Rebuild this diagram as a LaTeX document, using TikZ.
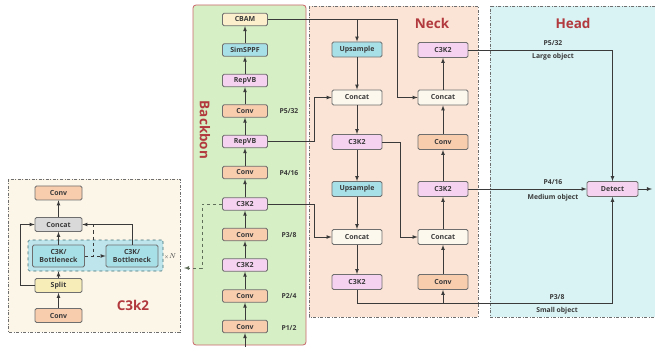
\documentclass[tikz,border=0pt]{standalone}
\usepackage{fontspec}
\setmainfont{Open Sans}
\usetikzlibrary{arrows,calc}
\definecolor{ConvClr}{HTML}{F8CDAE}
\definecolor{PinkClr}{HTML}{F6D2F1}
\definecolor{CyanClr}{HTML}{A8E0E8}
\definecolor{CbamClr}{HTML}{FBF0CB}
\definecolor{CatClr}{HTML}{FDF8EE}
\definecolor{GrayClr}{HTML}{D9D9D9}
\definecolor{SplitClr}{HTML}{F7EDB9}
\definecolor{BackClr}{HTML}{D6EFC5}
\definecolor{BackLineClr}{HTML}{C9656A}
\definecolor{NeckClr}{HTML}{FBE4D5}
\definecolor{HeadClr}{HTML}{D9F2F3}
\definecolor{KClr}{HTML}{FCF6E9}
\definecolor{BoxClr}{HTML}{BEE5EC}
\definecolor{BoxLineClr}{HTML}{3E6E74}
\definecolor{TitleClr}{HTML}{B23A3E}
\definecolor{LineClr}{HTML}{3A3A3A}
\definecolor{EdgeClr}{HTML}{6E6E6E}
\definecolor{DashClr}{HTML}{5E6E58}

\begin{document}
\begin{tikzpicture}[x=1pt,y=-1pt,>=latex,
  blk/.style={draw=EdgeClr,line width=.75pt,rounded corners=1.5pt,minimum width=45pt,minimum height=12.5pt,inner sep=0pt,font=\fontsize{7}{7.5}\selectfont\bfseries,text=LineClr},
  nblk/.style={blk,minimum width=50pt,minimum height=15pt},
  kblk/.style={blk,minimum width=47pt,minimum height=14pt},
  bblk/.style={blk,fill=CyanClr,minimum width=52pt,minimum height=22pt,align=center,font=\fontsize{7}{8}\selectfont\bfseries},
  lbl/.style={font=\fontsize{6.8}{7}\selectfont\bfseries,text=LineClr,inner sep=0pt},
  title/.style={font=\fontsize{13.5}{14}\selectfont\bfseries,text=TitleClr,inner sep=0pt},
  panel/.style={draw=EdgeClr,line width=.6pt,dash pattern=on 3pt off 1.5pt on 1pt off 1.5pt},
  con/.style={draw=LineClr,line width=.75pt,->}]
\useasboundingbox (0,0) rectangle (655,347);

\fill[KClr] (8,179) rectangle (180,332);
\draw[panel] (8,179) rectangle (180,332);
\draw[draw=BackLineClr,fill=BackClr,line width=.8pt,rounded corners=3pt] (193,5) rectangle (306,345);
\fill[NeckClr] (309,6) rectangle (478,317);
\draw[panel] (309,6) rectangle (478,317);
\fill[HeadClr] (490,6) rectangle (655,317);
\draw[panel] (655,6) -- (490,6) -- (490,317) -- (655,317);

\node[title] (ktitle) at (133,305) {C3k2};
\node[title,rotate=-90] (btitle) at (205,130) {Backbon};
\node[title] (ntitle) at (432,23) {Neck};
\node[title] (htitle) at (573,23) {Head};

\node[blk,fill=CbamClr] (cbam) at (245,19.5) {CBAM};
\node[blk,fill=CyanClr] (sppf) at (245,50) {SimSPPF};
\node[blk,fill=PinkClr] (rep2) at (245,80.5) {RepVB};
\node[blk,fill=ConvClr] (conv5) at (245,111) {Conv};
\node[blk,fill=PinkClr] (rep1) at (245,141.5) {RepVB};
\node[blk,fill=ConvClr] (conv4) at (245,172.5) {Conv};
\node[blk,fill=PinkClr] (c3b2) at (245,204) {C3K2};
\node[blk,fill=ConvClr] (conv3) at (245,234.5) {Conv};
\node[blk,fill=PinkClr] (c3b1) at (245,265) {C3K2};
\node[blk,fill=ConvClr] (conv2) at (245,296) {Conv};
\node[blk,fill=ConvClr] (conv1) at (245,326.5) {Conv};

\node[lbl] (p5) at (289,111) {P5/32};
\node[lbl] (p4) at (289,173) {P4/16};
\node[lbl] (p3) at (289,235) {P3/8};
\node[lbl] (p2) at (289,296.5) {P2/4};
\node[lbl] (p1) at (289,328) {P1/2};

\node[nblk,fill=CyanClr] (up1) at (357,49.5) {Upsample};
\node[nblk,fill=CatClr] (cat1) at (357,97.5) {Concat};
\node[nblk,fill=PinkClr] (c3n1) at (357,142) {C3K2};
\node[nblk,fill=CyanClr] (up2) at (357,189) {Upsample};
\node[nblk,fill=CatClr] (cat2) at (357,237) {Concat};
\node[nblk,fill=PinkClr] (c3n2) at (357,282) {C3K2};
\node[nblk,fill=PinkClr] (c3n5) at (443,50) {C3K2};
\node[nblk,fill=CatClr] (cat4) at (443,97.5) {Concat};
\node[nblk,fill=ConvClr] (convn2) at (443,142) {Conv};
\node[nblk,fill=PinkClr] (c3n4) at (443,189) {C3K2};
\node[nblk,fill=CatClr] (cat3) at (443,237) {Concat};
\node[nblk,fill=ConvClr] (convn1) at (443,282) {Conv};

\node[nblk,fill=PinkClr,minimum width=51pt] (detect) at (612.5,189) {Detect};

\node[lbl] (hp5) at (553,43) {P5/32};
\node[lbl] (hl) at (553,57) {Large object};
\node[lbl] (hp4) at (553,182) {P4/16};
\node[lbl] (hm) at (553,198) {Medium object};
\node[lbl] (hp3) at (557,297) {P3/8};
\node[lbl] (hs) at (557,311) {Small object};

\node[kblk,fill=ConvClr] (kconv2) at (58.5,193) {Conv};
\node[kblk,fill=GrayClr] (kcat) at (58.5,224.5) {Concat};
\node[draw=BoxLineClr,dashed,line width=.6pt,fill=BoxClr,rounded corners=1.5pt,minimum width=135pt,minimum height=31pt,inner sep=0pt] (box) at (95.5,255.5) {};
\node[bblk] (bot1) at (58.5,256) {C3K/\\Bottleneck};
\node[bblk] (bot2) at (132,256) {C3K/\\Bottleneck};
\node[lbl] (xn) at (170,257) {\fontsize{5}{6}\selectfont$\times$\fontsize{7}{7}\selectfont$N$};
\node[kblk,fill=SplitClr] (ksplit) at (58.5,285.5) {Split};
\node[kblk,fill=ConvClr] (kconv1) at (58.5,315.5) {Conv};

\coordinate (in) at (245,347);
\coordinate (out) at (652,189);
\coordinate (kin) at (184,268);
\coordinate (t1) at (397,0);
\coordinate (t2) at (314,0);
\coordinate (t3) at (400,0);
\coordinate (t4) at (0,303);
\coordinate (t5) at (202,0);
\coordinate (t6) at (20,0);
\coordinate (t7) at (93,0);

\draw[con] (in) -- (conv1);
\foreach \a/\b in {conv1/conv2,conv2/c3b1,c3b1/conv3,conv3/c3b2,c3b2/conv4,conv4/rep1,rep1/conv5,conv5/rep2,rep2/sppf,sppf/cbam}
  \draw[con] (\a) -- (\b);
\foreach \a/\b in {up1/cat1,cat1/c3n1,c3n1/up2,up2/cat2,cat2/c3n2,convn1/cat3,cat3/c3n4,c3n4/convn2,convn2/cat4,cat4/c3n5}
  \draw[con] (\a) -- (\b);

\draw[con] (cbam.east) -| (t1 |- cat4) -- (cat4.west);
\draw[con] (up1 |- cbam) -- (up1);
\draw[con] (rep1.east) -| (t2 |- cat1) -- (cat1.west);
\draw[con] (c3b2.east) -| (t2 |- cat2) -- (cat2.west);
\draw[con] (c3n1.east) -| (t3 |- cat3) -- (cat3.west);
\draw[con] (c3n2.south) |- (convn1 |- t4) -- (convn1.south);
\draw[con] (convn1 |- t4) -| (detect.south);
\draw[con] (c3n4.east) -- (detect.west);
\draw[con] (c3n5.east) -| (detect.north);
\draw[con] (detect.east) -- (out);

\draw[con,dashed,draw=DashClr] (c3b2.west) -| (t5 |- kin) -- (kin);

\draw[con] (kconv1) -- (ksplit);
\draw[con] (ksplit) -- (ksplit |- box.south);
\draw[con] (bot1) -- (kcat);
\draw[con] (kcat) -- (kconv2);
\draw[con] (ksplit.west) -| (t6 |- kcat) -- (kcat.west);
\draw[con] (bot2.north) |- (kcat.east);
\draw[con,dashed] (bot1.east) -- (bot2.west);
\draw[draw=LineClr,line width=.75pt,dashed] (t7 |- kcat) -- (t7 |- bot1);

\end{tikzpicture}
\end{document}
